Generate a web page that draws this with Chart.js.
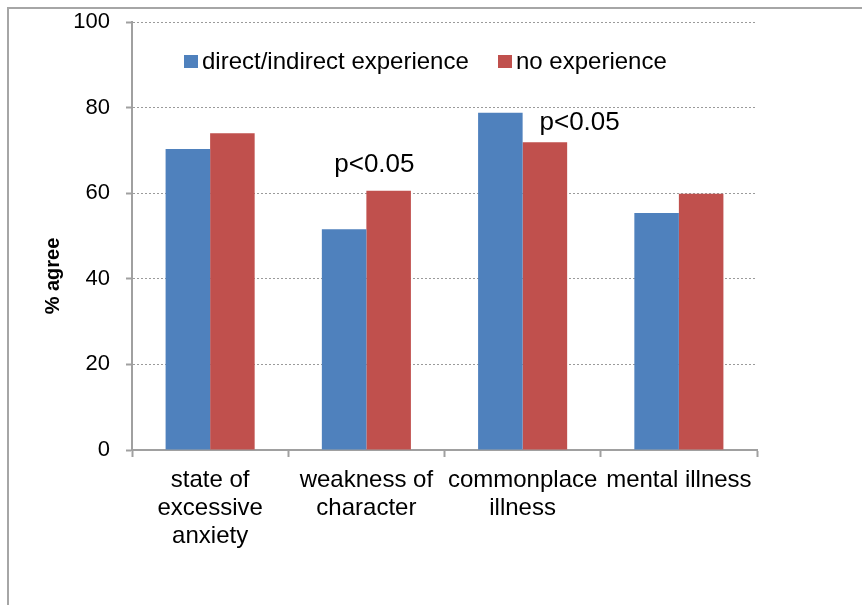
<!DOCTYPE html>
<html>
<head>
<meta charset="utf-8">
<script src="https://cdn.jsdelivr.net/npm/chart.js@4/dist/chart.umd.min.js"></script>
<style>
  html, body { margin: 0; padding: 0; background: #fff; }
  #wrap { position: relative; width: 862px; height: 605px; }
</style>
</head>
<body>
<div id="wrap"><canvas id="chart"></canvas></div>
<script>
const categories = [
    ['state of', 'excessive', 'anxiety'],
    ['weakness of', 'character'],
    ['commonplace', 'illness'],
    'mental illness'
];
const seriesNames = ['direct/indirect experience', 'no experience'];
const experienced = [70.3, 51.6, 78.8, 55.4];
const notExperienced = [74.0, 60.6, 71.9, 59.9];
const yTicks = [0, 20, 40, 60, 80, 100];
const noteTexts = ['p<0.05', 'p<0.05'];
const noteCategories = [1, 2];

const FONT = "'Liberation Sans', Arial, sans-serif";
const BLUE = '#4F81BD';
const RED = '#C0504D';

// frame, legend, y title and the p-value notes
const extras = {
    id: 'extras',
    beforeDraw(chart) {
        const ctx = chart.ctx;
        ctx.save();
        ctx.strokeStyle = '#A6A6A6';
        ctx.lineWidth = 2;
        ctx.beginPath();
        ctx.moveTo(8, chart.height);
        ctx.lineTo(8, 8);
        ctx.lineTo(chart.width, 8);
        ctx.stroke();
        ctx.restore();
    },
    afterDraw(chart) {
        const ctx = chart.ctx;
        const x = chart.scales.x;
        const y = chart.scales.y;
        ctx.save();

        // legend
        const legendX = [184, 498];
        ctx.font = '24px ' + FONT;
        ctx.textBaseline = 'alphabetic';
        ctx.textAlign = 'left';
        chart.data.datasets.forEach((ds, i) => {
            ctx.fillStyle = ds.backgroundColor;
            ctx.fillRect(legendX[i], 55, 14, 13);
            ctx.fillStyle = '#000';
            ctx.fillText(ds.label, legendX[i] + 18, 69);
        });

        // y axis title
        ctx.save();
        ctx.translate(59, 276);
        ctx.rotate(-Math.PI / 2);
        ctx.font = 'bold 20px ' + FONT;
        ctx.textAlign = 'center';
        ctx.textBaseline = 'alphabetic';
        ctx.fillStyle = '#000';
        ctx.fillText('% agree', 0, 0);
        ctx.restore();

        // p-value notes
        const noteDx = [8, 57];
        const noteAt = [65, 74.8];
        ctx.font = '26px ' + FONT;
        ctx.textAlign = 'center';
        ctx.fillStyle = '#000';
        noteTexts.forEach((t, i) => {
            const px = x.getPixelForValue(noteCategories[i]) + noteDx[i];
            const py = y.getPixelForValue(noteAt[i]);
            ctx.fillText(t, px, py);
        });
        ctx.restore();
    }
};

new Chart(document.getElementById('chart'), {
    type: 'bar',
    data: {
        labels: categories,
        datasets: [
            { label: seriesNames[0], data: experienced, backgroundColor: BLUE },
            { label: seriesNames[1], data: notExperienced, backgroundColor: RED }
        ]
    },
    options: {
        responsive: true,
        maintainAspectRatio: false,
        animation: false,
        layout: { padding: { left: 0, top: 22, right: 105, bottom: 0 } },
        datasets: { bar: { categoryPercentage: 0.57, barPercentage: 1.0, borderWidth: 0 } },
        plugins: { legend: { display: false }, tooltip: { enabled: false } },
        scales: {
            x: {
                afterFit(s) { s.height = 155; s.paddingLeft = 0; s.paddingRight = 0; },
                grid: {
                    drawOnChartArea: false,
                    offset: true,
                    tickLength: 7,
                    tickColor: '#A0A0A0',
                    tickWidth: 2
                },
                border: { color: '#A0A0A0', width: 2 },
                ticks: {
                    color: '#000',
                    font: { family: FONT, size: 24, lineHeight: 1.15 },
                    padding: 10,
                    maxRotation: 0,
                    autoSkip: false
                }
            },
            y: {
                min: 0,
                max: 100,
                afterFit(s) { s.width = 132; s.paddingTop = 0; s.paddingBottom = 0; },
                afterBuildTicks(s) { s.ticks = yTicks.map(v => ({ value: v })); },
                grid: {
                    color: '#9A9A9A',
                    lineWidth: 1,
                    tickLength: 6,
                    tickColor: '#A0A0A0',
                    tickWidth: 2,
                    tickBorderDash: []
                },
                border: { color: '#A0A0A0', width: 2, dash: [2, 2] },
                ticks: {
                    color: '#000',
                    font: { family: FONT, size: 22 },
                    padding: 16
                }
            }
        }
    },
    plugins: [extras]
});
</script>
</body>
</html>
